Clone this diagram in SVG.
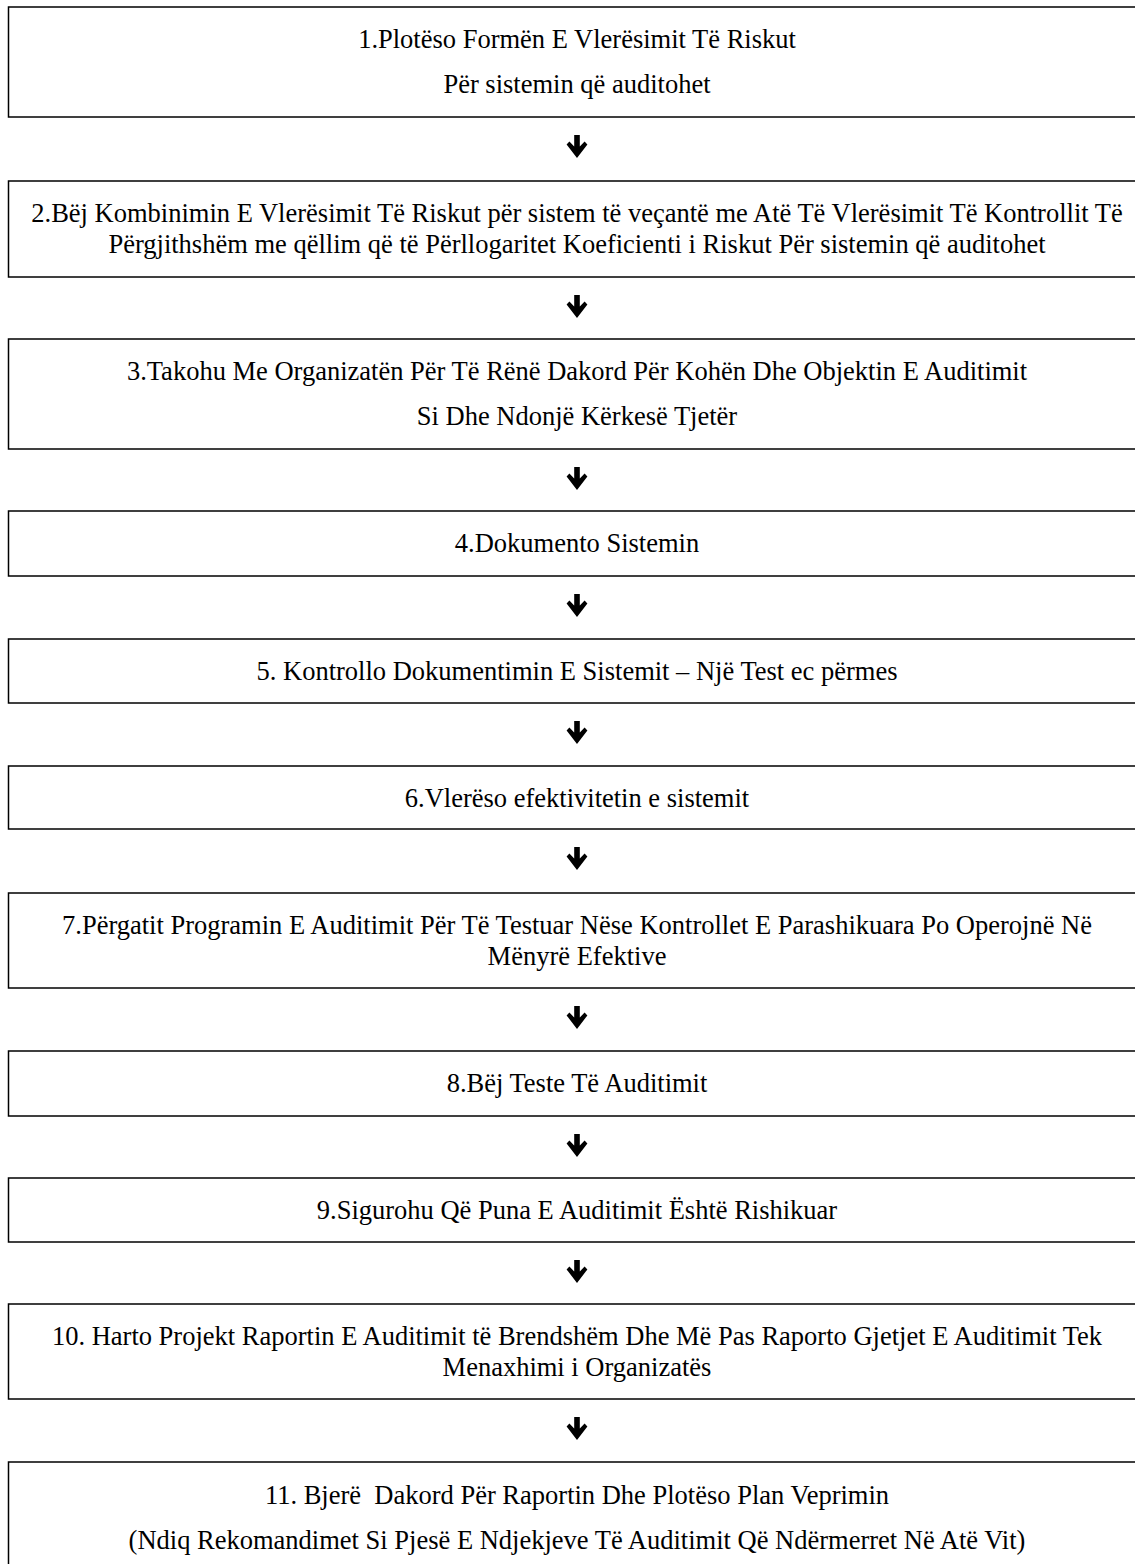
<svg xmlns="http://www.w3.org/2000/svg" width="1135" height="1564" viewBox="0 0 1135 1564">
<style>
.box{fill:#fff;stroke:#000;stroke-width:1.5}
.t{font-family:"Liberation Serif","Times New Roman",serif;font-size:26.5px;fill:#000;text-anchor:middle}
.arr{fill:#000}
</style>
<defs>
<path id="down" d="M-2.8,0 L2.8,0 L2.8,11.5 L7.6,6.6 L10.4,9.4 L0,23 L-10.4,9.4 L-7.6,6.6 L-2.8,11.5 Z"/>
</defs>
<rect width="1135" height="1564" fill="#fff"/>
<g id="node1"><rect class="box" x="8.5" y="7" width="1140" height="110"/>
<text class="t" x="577" y="48">1.Plotëso Formën E Vlerësimit Të Riskut</text>
<text class="t" x="577" y="93">Për sistemin që auditohet</text></g>
<g id="node2"><rect class="box" x="8.5" y="181" width="1140" height="96"/>
<text class="t" x="577" y="222">2.Bëj Kombinimin E Vlerësimit Të Riskut për sistem të veçantë me Atë Të Vlerësimit Të Kontrollit Të</text>
<text class="t" x="577" y="253">Përgjithshëm me qëllim që të Përllogaritet Koeficienti i Riskut Për sistemin që auditohet</text></g>
<g id="node3"><rect class="box" x="8.5" y="339" width="1140" height="110"/>
<text class="t" x="577" y="380">3.Takohu Me Organizatën Për Të Rënë Dakord Për Kohën Dhe Objektin E Auditimit</text>
<text class="t" x="577" y="425">Si Dhe Ndonjë Kërkesë Tjetër</text></g>
<g id="node4"><rect class="box" x="8.5" y="511" width="1140" height="65"/>
<text class="t" x="577" y="552">4.Dokumento Sistemin</text></g>
<g id="node5"><rect class="box" x="8.5" y="639" width="1140" height="64"/>
<text class="t" x="577" y="680">5. Kontrollo Dokumentimin E Sistemit – Një Test ec përmes</text></g>
<g id="node6"><rect class="box" x="8.5" y="766" width="1140" height="63"/>
<text class="t" x="577" y="807">6.Vlerëso efektivitetin e sistemit</text></g>
<g id="node7"><rect class="box" x="8.5" y="893" width="1140" height="95"/>
<text class="t" x="577" y="934">7.Përgatit Programin E Auditimit Për Të Testuar Nëse Kontrollet E Parashikuara Po Operojnë Në</text>
<text class="t" x="577" y="965">Mënyrë Efektive</text></g>
<g id="node8"><rect class="box" x="8.5" y="1051" width="1140" height="65"/>
<text class="t" x="577" y="1092">8.Bëj Teste Të Auditimit</text></g>
<g id="node9"><rect class="box" x="8.5" y="1178" width="1140" height="64"/>
<text class="t" x="577" y="1219">9.Sigurohu Që Puna E Auditimit Është Rishikuar</text></g>
<g id="node10"><rect class="box" x="8.5" y="1304" width="1140" height="95"/>
<text class="t" x="577" y="1345">10. Harto Projekt Raportin E Auditimit të Brendshëm Dhe Më Pas Raporto Gjetjet E Auditimit Tek</text>
<text class="t" x="577" y="1376">Menaxhimi i Organizatës</text></g>
<g id="node11"><rect class="box" x="8.5" y="1462" width="1140" height="130"/>
<text class="t" x="577" y="1504" xml:space="preserve">11. Bjerë  Dakord Për Raportin Dhe Plotëso Plan Veprimin</text>
<text class="t" x="577" y="1549">(Ndiq Rekomandimet Si Pjesë E Ndjekjeve Të Auditimit Që Ndërmerret Në Atë Vit)</text></g>
<g id="connectors" class="arr">
<use href="#down" x="577" y="135"/>
<use href="#down" x="577" y="295"/>
<use href="#down" x="577" y="467"/>
<use href="#down" x="577" y="594"/>
<use href="#down" x="577" y="721"/>
<use href="#down" x="577" y="847"/>
<use href="#down" x="577" y="1006"/>
<use href="#down" x="577" y="1134"/>
<use href="#down" x="577" y="1260"/>
<use href="#down" x="577" y="1417"/>
</g>
</svg>
